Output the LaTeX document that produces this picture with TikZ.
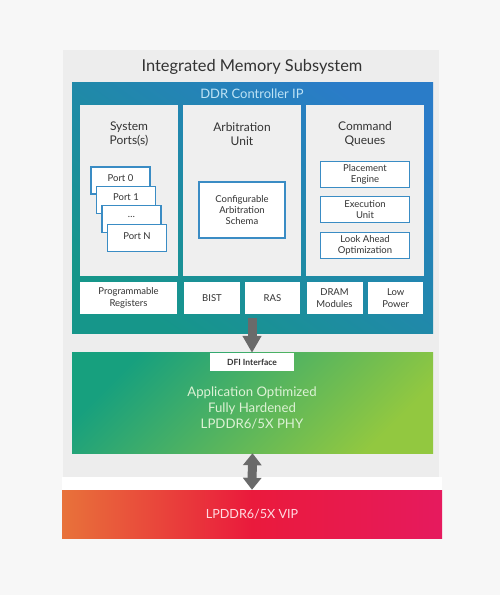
\documentclass[tikz,border=0pt]{standalone}
\usepackage{fontspec}
\setmainfont{Lato}
\usepackage{xcolor}
\usetikzlibrary{arrows.meta}

\definecolor{pagebg}{HTML}{F7F7F7}
\definecolor{panelgray}{HTML}{EDEDED}
\definecolor{colgray}{HTML}{EFEFEF}
\definecolor{ctrlteal}{HTML}{16968A}
\definecolor{ctrlblue}{HTML}{2A7CC8}
\definecolor{ctrltext}{HTML}{BEE3F5}
\definecolor{boxblue}{HTML}{3A8CC4}
\definecolor{txtdark}{HTML}{333333}
\definecolor{phyteal}{HTML}{17A07E}
\definecolor{phylime}{HTML}{92C840}
\definecolor{phytext}{HTML}{DDF2D5}
\definecolor{viporange}{HTML}{E8723A}
\definecolor{vipred}{HTML}{EA1A3C}
\definecolor{vippink}{HTML}{E61A5E}
\definecolor{viptext}{HTML}{FFDCE2}
\definecolor{arrowgray}{HTML}{6A6A6A}

\tikzset{
  colpanel/.style={fill=colgray, minimum height=171pt, inner sep=0pt},
  coltitle/.style={text=txtdark, align=center, font=\fontsize{12}{14.5}\selectfont},
  blockbox/.style={fill=white, draw=boxblue, line width=1.1pt, text=txtdark, align=center,
    inner sep=0pt, font=\fontsize{9.5}{11}\selectfont},
  portbox/.style={blockbox, minimum width=59pt, minimum height=27pt},
  portlabel/.style={text=txtdark, inner sep=0pt, font=\fontsize{9.5}{11}\selectfont},
  queuebox/.style={blockbox, minimum width=89pt, minimum height=26pt},
  regbox/.style={fill=white, text=txtdark, align=center, inner sep=0pt,
    minimum height=32pt, font=\fontsize{9.5}{11.5}\selectfont},
  busarrow/.style={draw=arrowgray, line width=9pt},
}

\begin{document}
\begin{tikzpicture}[x=1pt,y=-1pt]
	\path[use as bounding box, fill=pagebg] (0,0) rectangle (500,595);
	\fill[panelgray] (63,50) rectangle (439,477);
	\node[text=txtdark, font=\fontsize{16.4}{19}\selectfont] (title) at (252,67) {Integrated Memory Subsystem};
	
	\node[inner sep=0pt, minimum width=361pt, minimum height=251pt,
	  bottom color=ctrlteal, top color=ctrlblue, shading angle=-35] (ctrl) at (252.5,207.5) {};
	\node[text=ctrltext, font=\fontsize{13}{15}\selectfont] (ctrltitle) at (252,94) {DDR Controller IP};
	
	\node[colpanel, minimum width=98pt] (ports) at (129,190.5) {};
	\node[colpanel, minimum width=118pt] (arb) at (242,190.5) {};
	\node[colpanel, minimum width=118pt] (cmd) at (365,190.5) {};
	
	\node[coltitle] at (129,134) {System\\Ports(s)};
	\node[coltitle] at (242,134) {Arbitration\\Unit};
	\node[coltitle] at (365,134) {Command\\Queues};
	
	\foreach \i/\lbl in {0/Port 0,1/Port 1,2/\ldots,3/Port N}
		\node[portbox, label={[portlabel, anchor=center, yshift=-11.5pt]north:\lbl}] (port\i)
		  at ({120.5+5.5*\i},{180.5+19.3*\i}) {};
	
	\node[blockbox, minimum width=86pt, minimum height=56pt] (schema) at (242,210) {Configurable\\Arbitration\\Schema};
	
	\node[queuebox] (place) at (365,174.5) {Placement\\Engine};
	\node[queuebox] (exec) at (365,209.7) {Execution\\Unit};
	\node[queuebox] (ahead) at (365,245.3) {Look Ahead\\Optimization};
	
	\node[regbox, minimum width=97pt] (progreg) at (128.5,298) {Programmable\\Registers};
	\node[regbox, minimum width=56pt] (bist) at (212,298) {BIST};
	\node[regbox, minimum width=55pt] (ras) at (272.5,298) {RAS};
	\node[regbox, minimum width=56pt] (dram) at (334.5,298) {DRAM\\Modules};
	\node[regbox, minimum width=55.5pt] (lowpow) at (395.7,298) {Low\\Power};
	
	\node[inner sep=0pt, minimum width=361pt, minimum height=101pt,
	  top color=phyteal, bottom color=phylime, shading angle=45] (phy) at (252.5,402.5) {};
	\node[fill=white, inner sep=0pt, minimum width=84pt, minimum height=18pt, text=txtdark,
	  font=\fontsize{8.5}{10}\bfseries] (dfi) at (252,362) {DFI Interface};
	\node[text=phytext, align=center, font=\fontsize{13.2}{15.8}\selectfont] (phytxt) at (252,408)
	  {Application Optimized\\Fully Hardened\\LPDDR6/5X PHY};
	
	\fill[white] (62,477) rectangle (442,490);
	\node[inner sep=0pt, minimum width=380pt, minimum height=48pt,
	  left color=viporange, right color=vippink, middle color=vipred] (vip) at (252,514) {};
	\node[text=viptext, font=\fontsize{12.6}{15}\selectfont] (viptxt) at (252,514) {LPDDR6/5X VIP};
	
	\coordinate (busTop) at (252,318);
	\draw[busarrow, -{Triangle[width=18pt,length=17pt]}] (busTop) -- (dfi.north);
	\draw[busarrow, {Triangle[width=18pt,length=12pt]}-{Triangle[width=18pt,length=12pt]}] (phy.south) -- (vip.north);
\end{tikzpicture}
\end{document}
